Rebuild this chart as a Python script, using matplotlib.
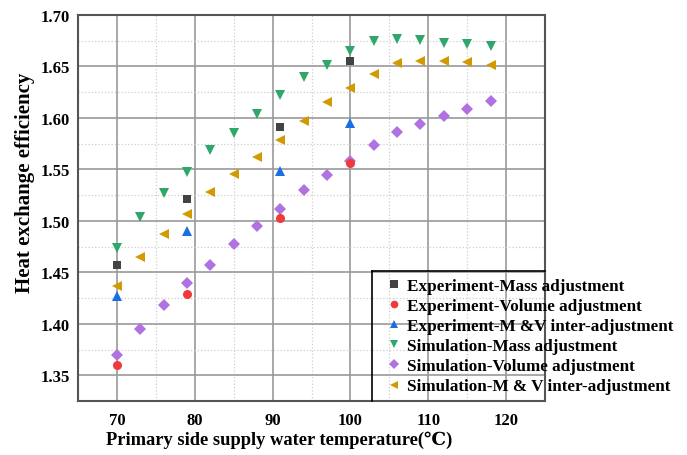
import matplotlib
matplotlib.use("Agg")
import matplotlib.pyplot as plt
from matplotlib.lines import Line2D
from matplotlib.ticker import MultipleLocator, FormatStrFormatter

plt.rcParams['font.family'] = ['Liberation Serif', 'DejaVu Serif']
plt.rcParams['font.weight'] = 'bold'

exp_x = [70, 79, 91, 100]
exp_mass = [1.457, 1.521, 1.591, 1.655]
exp_volume = [1.360, 1.429, 1.503, 1.556]
exp_mv = [1.427, 1.490, 1.548, 1.595]

sim_x = [70, 73, 76, 79, 82, 85, 88, 91, 94, 97, 100, 103, 106, 109, 112, 115, 118]
sim_mass = [1.474, 1.504, 1.527, 1.547, 1.569, 1.585, 1.604, 1.622, 1.640, 1.651,
            1.665, 1.675, 1.677, 1.676, 1.673, 1.672, 1.670]
sim_volume = [1.370, 1.395, 1.418, 1.440, 1.457, 1.478, 1.495, 1.512, 1.530, 1.545,
              1.558, 1.574, 1.586, 1.594, 1.602, 1.609, 1.616]
sim_mv = [1.437, 1.465, 1.487, 1.507, 1.528, 1.546, 1.562, 1.579, 1.597, 1.615,
          1.629, 1.643, 1.653, 1.655, 1.655, 1.654, 1.651]

labels = ["Experiment-Mass adjustment",
          "Experiment-Volume adjustment",
          "Experiment-M &V inter-adjustment",
          "Simulation-Mass adjustment",
          "Simulation-Volume adjustment",
          "Simulation-M & V inter-adjustment"]

fig = plt.figure(figsize=(6.87, 4.56), dpi=100)
ax = fig.add_axes([78/687, 1-402/456, (545-78)/687, (402-16)/456])

series = [
    (sim_x, sim_mass, 'v', '#2fa66a', 7.5, labels[3]),
    (sim_x, sim_mv, '<', '#d29a00', 7.5, labels[5]),
    (sim_x, sim_volume, 'D', '#b072e0', 5.8, labels[4]),
    (exp_x, exp_volume, 'o', '#f03a3a', 6.5, labels[1]),
    (exp_x, exp_mass, 's', '#434343', 6.3, labels[0]),
    (exp_x, exp_mv, '^', '#1b6fe0', 7.5, labels[2]),
]
for xs, ys, m, c, ms, lab in series:
    ax.plot(xs, ys, linestyle='none', marker=m, color=c, markersize=ms,
            markeredgewidth=0, label=lab, zorder=3)

ax.set_xlim(65, 125)
ax.set_ylim(1.325, 1.70)
ax.xaxis.set_minor_locator(MultipleLocator(5))
ax.yaxis.set_major_locator(MultipleLocator(0.05))
ax.yaxis.set_minor_locator(MultipleLocator(0.025))
ax.set_xticks([70, 80, 90, 100, 110, 120])
ax.yaxis.set_major_formatter(FormatStrFormatter('%.2f'))
ax.grid(which='major', color='#9a9a9a', linewidth=1.2, zorder=0)
ax.grid(which='minor', color='#cfcfcf', linewidth=0.9, linestyle=':', zorder=0)
ax.set_axisbelow(True)
for s in ax.spines.values():
    s.set_color('#555555')
    s.set_linewidth(1.5)
ax.tick_params(which='both', length=0, labelsize=12)
ax.tick_params(axis='x', pad=8)
ax.tick_params(axis='y', pad=6)
for t in ax.get_xticklabels() + ax.get_yticklabels():
    t.set_fontweight('bold')

ax.set_xlabel('Primary side supply water temperature(℃)', fontsize=13.3,
              fontweight='bold')
ax.xaxis.set_label_coords((279-78)/467, -(440-402)/386, transform=ax.transAxes)
ax.xaxis.label.set_verticalalignment('center')
ax.set_ylabel('Heat exchange efficiency', fontsize=15, fontweight='bold')
ax.yaxis.set_label_coords(-(78-25)/467, (402-183)/386, transform=ax.transAxes)
ax.yaxis.label.set_verticalalignment('center')

# legend frame (left and top borders, clipped at axes)
fig.add_artist(Line2D([372/687, 545/687], [1-272/456, 1-272/456],
                      color='black', linewidth=1.2, transform=fig.transFigure))
fig.add_artist(Line2D([372/687, 372/687], [1-272/456, 1-402/456],
                      color='black', linewidth=1.2, transform=fig.transFigure))

handles, labs = ax.get_legend_handles_labels()
order = [labels.index(l) for l in labs]
hl = sorted(zip(order, handles, labs))
leg = fig.legend([h for _, h, _ in hl], [l for _, _, l in hl],
                 loc='upper left', bbox_to_anchor=(389/687, 1-279/456),
                 frameon=False, fontsize=12.3, handlelength=0.6,
                 handletextpad=0.45, labelspacing=0.24, borderpad=0,
                 borderaxespad=0, markerscale=0.85)
for t in leg.get_texts():
    t.set_fontweight('bold')

fig.savefig('out.png', dpi=100)
